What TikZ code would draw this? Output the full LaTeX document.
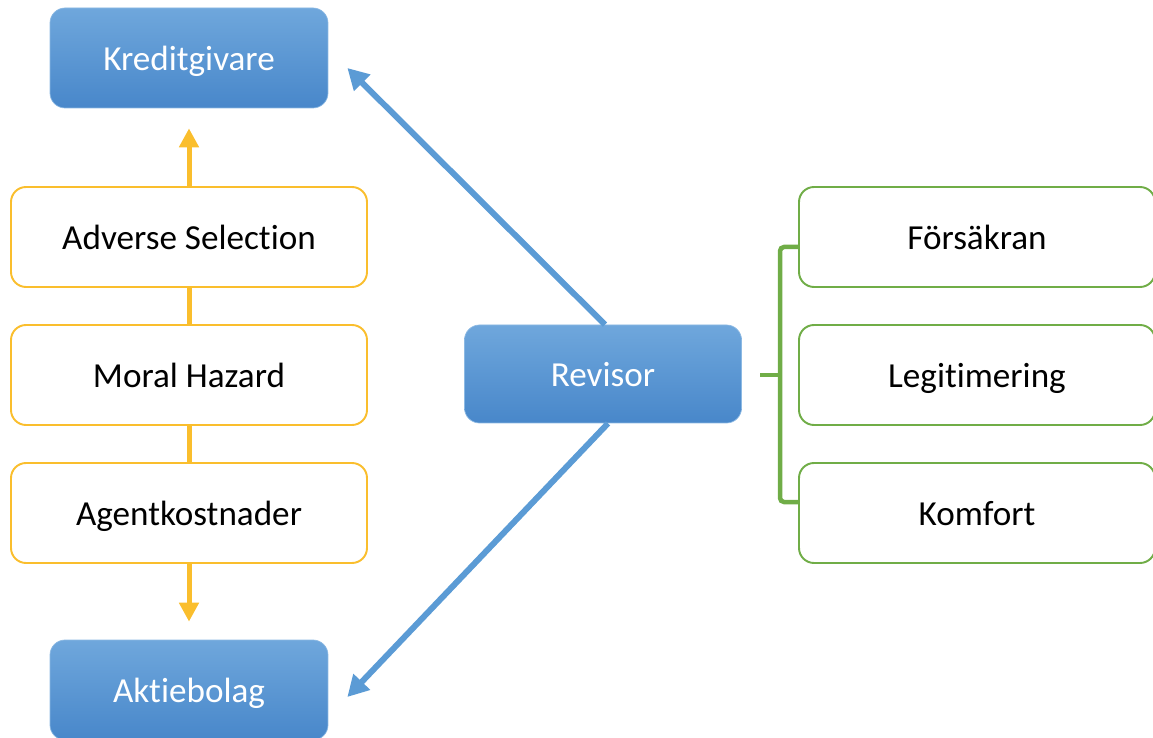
\documentclass[tikz,border=0pt]{standalone}
\usepackage{fontspec}
\setmainfont{Carlito}[Ligatures=NoCommon]
\usepackage{tikz}
\usetikzlibrary{positioning,arrows.meta}
\definecolor{boxtop}{HTML}{6FA7DC}
\definecolor{boxbottom}{HTML}{4887CA}
\definecolor{arrowblue}{HTML}{5B9BD5}
\definecolor{gold}{RGB}{250,190,45}
\definecolor{leaf}{RGB}{112,173,71}

\begin{document}
\begin{tikzpicture}[node distance=2.76cm,
	bluebox/.style={rectangle, rounded corners=0.3cm, top color=boxtop, bottom color=boxbottom, draw=boxtop!80!white, line width=0.4pt, minimum width=5.56cm, minimum height=2cm, text=white, text height=14.5pt, text depth=0pt, font=\fontsize{20}{24}\selectfont},
	yellowbox/.style={rectangle, rounded corners=0.3cm, draw=gold, fill=white, line width=1.1pt, minimum width=7.12cm, minimum height=2cm, text height=14.5pt, text depth=0pt, font=\fontsize{20}{24}\selectfont},
	greenbox/.style={yellowbox, draw=leaf},
	goldarrow/.style={-{Triangle[length=0.38cm, width=0.38cm]}, line width=0.1cm, gold},
	bluearrow/.style={-{Triangle[length=0.42cm, width=0.44cm]}, line width=0.12cm, arrowblue},
	bracket/.style={line width=0.09cm, leaf, rounded corners=0.08cm}]
	\useasboundingbox (0,0) rectangle (23.06,-14.76);
	\node[bluebox] (kredit) at (3.78,-1.16) {Kreditgivare};
	\node[yellowbox, below of=kredit, yshift=-0.82cm] (adverse) {Adverse Selection};
	\node[yellowbox, below of=adverse] (moral) {Moral Hazard};
	\node[yellowbox, below of=moral] (agent) {Agentkostnader};
	\node[bluebox, below of=agent, yshift=-0.78cm] (aktie) {Aktiebolag};
	\node[bluebox, minimum width=5.54cm, minimum height=1.96cm, right of=moral, xshift=5.52cm, yshift=0.02cm] (revisor) {Revisor};
	\node[greenbox, right of=revisor, xshift=4.72cm, yshift=-0.02cm] (legit) {Legitimering};
	\node[greenbox, above of=legit] (forsakran) {Försäkran};
	\node[greenbox, below of=legit] (komfort) {Komfort};

	% gold chain on the left
	\draw[goldarrow] (adverse.north) -- ([yshift=-0.4cm] kredit.south);
	\draw[line width=0.1cm, gold] (adverse.south) -- (moral.north);
	\draw[line width=0.1cm, gold] (moral.south) -- (agent.north);
	\draw[goldarrow] (agent.south) -- ([yshift=0.36cm] aktie.north);

	% revisor arrows
	\draw[bluearrow] ([xshift=0.04cm] revisor.north) -- ([xshift=0.38cm, yshift=-0.2cm] kredit.east);
	\draw[bluearrow] ([xshift=0.1cm] revisor.south) -- ([xshift=0.38cm, yshift=-0.14cm] aktie.east);

	% bracket
	\coordinate (brtop) at ([xshift=-0.36cm, yshift=-0.2cm] forsakran.west);
	\coordinate (brbot) at ([xshift=-0.36cm, yshift=0.22cm] komfort.west);
	\draw[bracket] ([yshift=-0.2cm] forsakran.west) -- (brtop) -- (brbot) -- ([yshift=0.22cm] komfort.west);
	\draw[bracket] (brtop |- legit.west) -- ([xshift=-0.4cm] brtop |- legit.west);
\end{tikzpicture}
\end{document}
